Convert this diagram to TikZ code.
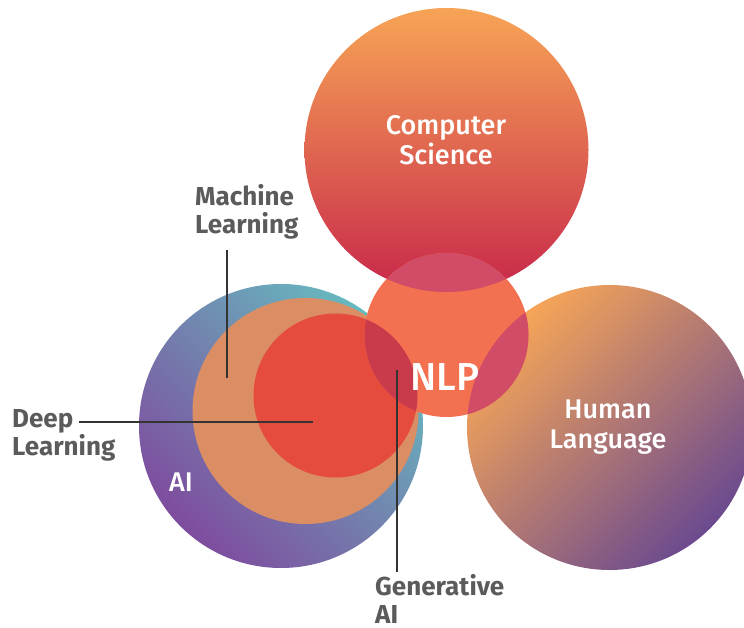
\documentclass[tikz,border=0pt]{standalone}
\usepackage{fontspec}
\setmainfont{Fira Sans}
\newfontfamily\whitefont{Fira Sans Medium}
\definecolor{aiteal}{HTML}{67B9BF}
\definecolor{aipurple}{HTML}{7E4C9E}
\definecolor{mlc}{HTML}{DB8E63}
\definecolor{dlc}{HTML}{E54C3E}
\definecolor{cstop}{HTML}{F7A456}
\definecolor{csbot}{HTML}{C8284A}
\definecolor{hltop}{HTML}{F7A657}
\definecolor{hlbot}{HTML}{6B4A8F}
\definecolor{nlpc}{HTML}{F37050}
\definecolor{ovpink}{HTML}{D14C66}
\definecolor{ovred}{HTML}{C93A4B}
\definecolor{labelgray}{HTML}{5B5B5B}
\definecolor{linegray}{HTML}{333333}
\begin{document}
\begin{tikzpicture}[x=1pt,y=1pt,
  darklabel/.style={font=\fontsize{26}{28}\selectfont\bfseries, text=labelgray, align=left, inner sep=0pt, anchor=north west},
  whitelabel/.style={font=\whitefont\fontsize{27}{30}\selectfont, text=white, align=center, inner sep=0pt, anchor=north},
  leader/.style={draw=linegray, line width=1.6pt}]
\useasboundingbox (0,0) rectangle (744,-628);
\clip (0,0) rectangle (744,-628);
% centres
\coordinate (aic) at (281,-426);
\coordinate (mlc) at (305.5,-411);
\coordinate (dlc) at (335.5,-395.5);
\coordinate (csc) at (446.5,-150);
\coordinate (hlc) at (609.5,-427.5);
\coordinate (nlpc) at (446.5,-335);
% circles
\shade[top color=aiteal, bottom color=aipurple, shading angle=-45] (aic) circle (142);
\fill[mlc] (mlc) circle (113);
\fill[dlc] (dlc) circle (82);
\shade[top color=cstop, bottom color=csbot] (csc) circle (142);
\shade[top color=hltop, bottom color=hlbot, shading angle=45] (hlc) circle (142.5);
\fill[nlpc] (nlpc) circle (82);
\begin{scope}
  \clip (nlpc) circle (82);
  \fill[ovpink] (csc) circle (142);
  \fill[ovpink] (hlc) circle (142.5);
  \fill[ovred] (dlc) circle (82);
\end{scope}
% white labels
\node[whitelabel] (cs) at (446,-115) {Computer\\Science};
\node[whitelabel, font=\whitefont\fontsize{39}{40}\selectfont] (nlp) at (445,-363) {NLP};
\node[whitelabel] (hl) at (608,-400) {Human\\Language};
\node[whitelabel] (ai) at (181,-473) {AI};
% dark labels
\node[darklabel] (ml) at (195,-184) {Machine\\Learning};
\node[darklabel] (dl) at (12,-409) {Deep\\Learning};
\node[darklabel] (gen) at (375,-574) {Generative\\AI};
% leaders
\coordinate (mlA) at (227,-250);
\coordinate (mlB) at (227,-378);
\coordinate (dlA) at (79,-422);
\coordinate (dlB) at (313,-422);
\coordinate (genA) at (397,-572);
\coordinate (genB) at (397,-370);
\draw[leader] (mlA) -- (mlB);
\draw[leader] (dlA) -- (dlB);
\draw[leader] (genA) -- (genB);
\end{tikzpicture}
\end{document}
